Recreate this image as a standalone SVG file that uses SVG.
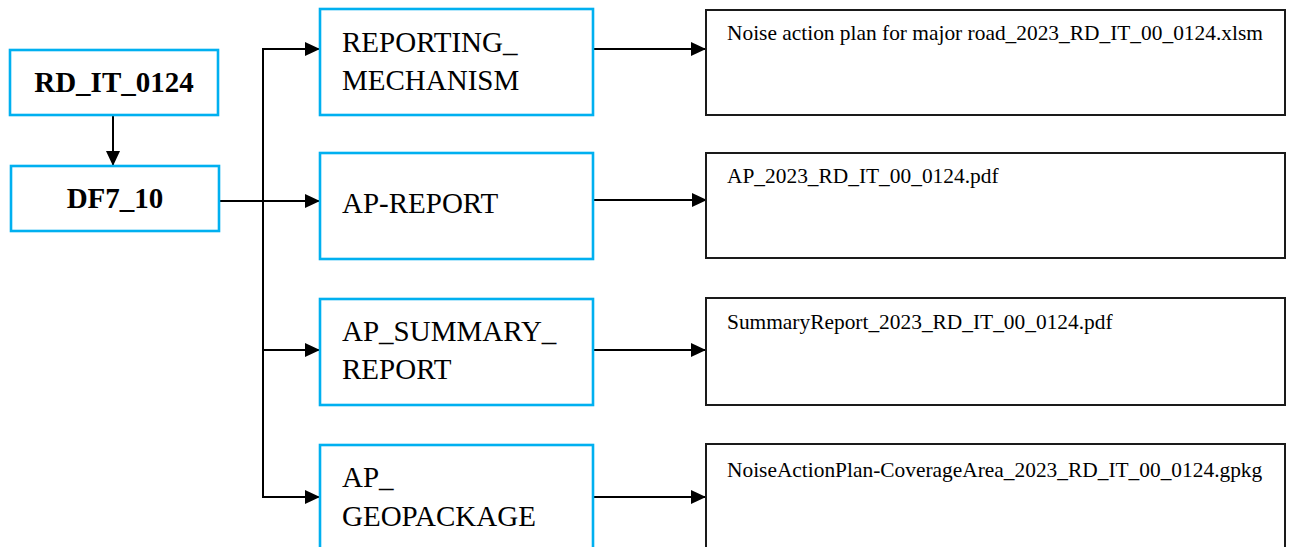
<svg xmlns="http://www.w3.org/2000/svg" width="1292" height="547" viewBox="0 0 1292 547">
<style>
.src{fill:#fff;stroke:#00B0F0;stroke-width:2.6}
.out{fill:#fff;stroke:#1a1a1a;stroke-width:2}
text{font-family:'Liberation Serif','Times New Roman',Times,serif;fill:#000}
.b{font-weight:bold;font-size:29px}
.m{font-size:29px}
.f{font-size:21.4px}
.c{fill:none;stroke:#000;stroke-width:2}
</style>
<defs>
<marker id="ah" markerWidth="15" markerHeight="14" refX="15" refY="7" orient="auto" markerUnits="userSpaceOnUse">
<path d="M0,0 L15,7 L0,14 Z" fill="#000"/>
</marker>
</defs>
<rect width="1292" height="547" fill="#fff"/>
<g id="connectors">
<line class="c" x1="113" y1="115" x2="113" y2="166" marker-end="url(#ah)"/>
<line class="c" x1="219" y1="201" x2="320" y2="201" marker-end="url(#ah)"/>
<polyline class="c" points="320,49 263,49 263,497 320,497" marker-end="url(#ah)"/>
<line class="c" x1="263" y1="49" x2="320" y2="49" marker-end="url(#ah)"/>
<line class="c" x1="263" y1="350" x2="320" y2="350" marker-end="url(#ah)"/>
<line class="c" x1="593" y1="49" x2="706" y2="49" marker-end="url(#ah)"/>
<line class="c" x1="593" y1="200" x2="707" y2="200" marker-end="url(#ah)"/>
<line class="c" x1="593" y1="350" x2="706" y2="350" marker-end="url(#ah)"/>
<line class="c" x1="593" y1="497" x2="706" y2="497" marker-end="url(#ah)"/>
</g>
<g id="n_rd">
<rect class="src" x="10" y="50" width="208" height="65"/>
<text class="b" x="114" y="92" text-anchor="middle">RD_IT_0124</text>
</g>
<g id="n_df">
<rect class="src" x="11" y="166" width="208" height="65"/>
<text class="b" x="115" y="208" text-anchor="middle">DF7_10</text>
</g>
<g id="n_rm">
<rect class="src" x="320" y="9" width="273" height="106"/>
<text class="m" x="342" y="52">REPORTING_</text>
<text class="m" x="342" y="90">MECHANISM</text>
</g>
<g id="n_apr">
<rect class="src" x="320" y="153" width="273" height="106"/>
<text class="m" x="342" y="213">AP-REPORT</text>
</g>
<g id="n_aps">
<rect class="src" x="320" y="299" width="273" height="106"/>
<text class="m" x="342" y="341">AP_SUMMARY_</text>
<text class="m" x="342" y="379">REPORT</text>
</g>
<g id="n_apg">
<rect class="src" x="320" y="445" width="273" height="120"/>
<text class="m" x="342" y="487">AP_</text>
<text class="m" x="342" y="526">GEOPACKAGE</text>
</g>
<g id="f_xlsm">
<rect class="out" x="706" y="10" width="579" height="105"/>
<text class="f" x="727" y="40">Noise action plan for major road_2023_RD_IT_00_0124.xlsm</text>
</g>
<g id="f_pdf">
<rect class="out" x="706" y="153" width="579" height="105"/>
<text class="f" x="727" y="183">AP_2023_RD_IT_00_0124.pdf</text>
</g>
<g id="f_sum">
<rect class="out" x="706" y="298" width="579" height="107"/>
<text class="f" x="727" y="329">SummaryReport_2023_RD_IT_00_0124.pdf</text>
</g>
<g id="f_gpkg">
<rect class="out" x="706" y="444" width="579" height="120"/>
<text class="f" x="727" y="477">NoiseActionPlan-CoverageArea_2023_RD_IT_00_0124.gpkg</text>
</g>
</svg>
